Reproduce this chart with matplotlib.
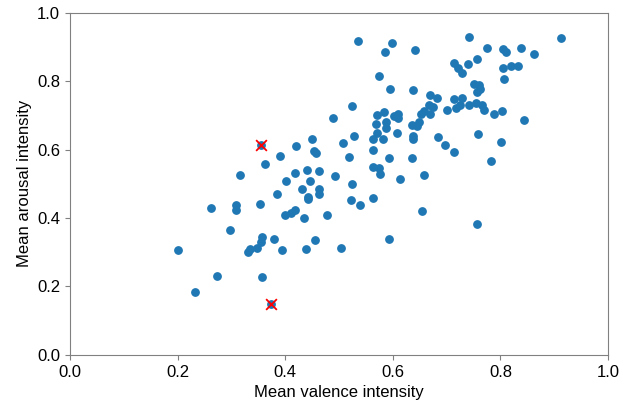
import matplotlib
matplotlib.use("Agg")
import matplotlib.pyplot as plt

plt.rcParams['font.family'] = ['Liberation Sans', 'DejaVu Sans']

# mean valence / arousal per item
valence = [0.201, 0.232, 0.262, 0.274, 0.297, 0.308, 0.308, 0.316, 0.330, 0.334,
           0.348, 0.354, 0.356, 0.355, 0.356, 0.362, 0.355, 0.374, 0.380, 0.384,
           0.390, 0.395, 0.400, 0.402, 0.410, 0.419, 0.421, 0.419, 0.431, 0.435,
           0.439, 0.440, 0.442, 0.442, 0.446, 0.449, 0.454, 0.458, 0.456, 0.463,
           0.462, 0.463, 0.478, 0.489, 0.493, 0.504, 0.508, 0.519, 0.523, 0.525,
           0.525, 0.528, 0.535, 0.539, 0.564, 0.564, 0.564, 0.564, 0.569, 0.570,
           0.570, 0.574, 0.574, 0.577, 0.581, 0.584, 0.585, 0.588, 0.588, 0.593,
           0.593, 0.595, 0.599, 0.603, 0.608, 0.609, 0.609, 0.614, 0.635, 0.636,
           0.637, 0.637, 0.638, 0.641, 0.645, 0.648, 0.652, 0.655, 0.658, 0.658,
           0.667, 0.669, 0.670, 0.675, 0.682, 0.684, 0.697, 0.700, 0.714, 0.714,
           0.714, 0.717, 0.721, 0.724, 0.729, 0.729, 0.739, 0.741, 0.741, 0.750,
           0.754, 0.756, 0.756, 0.757, 0.759, 0.760, 0.763, 0.766, 0.769, 0.776,
           0.782, 0.788, 0.802, 0.803, 0.804, 0.805, 0.806, 0.810, 0.820, 0.832,
           0.838, 0.844, 0.862, 0.913]
arousal = [0.308, 0.185, 0.428, 0.231, 0.364, 0.437, 0.425, 0.525, 0.301, 0.311,
           0.312, 0.442, 0.346, 0.331, 0.228, 0.559, 0.613, 0.148, 0.338, 0.471,
           0.581, 0.306, 0.408, 0.509, 0.416, 0.423, 0.612, 0.531, 0.486, 0.399,
           0.310, 0.541, 0.462, 0.455, 0.507, 0.631, 0.595, 0.591, 0.335, 0.486,
           0.471, 0.538, 0.408, 0.693, 0.524, 0.312, 0.618, 0.579, 0.452, 0.500,
           0.727, 0.640, 0.918, 0.438, 0.632, 0.598, 0.550, 0.460, 0.675, 0.700,
           0.648, 0.815, 0.547, 0.528, 0.630, 0.709, 0.886, 0.680, 0.664, 0.338,
           0.576, 0.776, 0.911, 0.699, 0.649, 0.705, 0.692, 0.513, 0.672, 0.577,
           0.632, 0.639, 0.775, 0.891, 0.669, 0.680, 0.704, 0.420, 0.525, 0.714,
           0.732, 0.705, 0.759, 0.725, 0.751, 0.636, 0.614, 0.716, 0.592, 0.747,
           0.852, 0.723, 0.838, 0.732, 0.751, 0.823, 0.851, 0.731, 0.929, 0.791,
           0.737, 0.866, 0.382, 0.769, 0.645, 0.789, 0.777, 0.732, 0.717, 0.897,
           0.566, 0.703, 0.623, 0.714, 0.894, 0.840, 0.807, 0.886, 0.846, 0.846,
           0.896, 0.688, 0.880, 0.925]

# flagged outliers
flag_valence = [0.355, 0.374]
flag_arousal = [0.613, 0.148]

fig = plt.figure(figsize=(6.36, 4.01), dpi=100)
ax = fig.add_axes([0.110, 0.115, 0.846, 0.853])

ax.scatter(valence, arousal, color='#1f77b4', s=28)
ax.scatter(flag_valence, flag_arousal, color='red', marker='x', s=60, linewidths=1.3)

ax.set_xlim(0, 1)
ax.set_ylim(0, 1)
ax.set_xlabel('Mean valence intensity', fontsize=12)
ax.set_ylabel('Mean arousal intensity', fontsize=12)
ax.tick_params(labelsize=12, color='#808080')
for sp in ax.spines.values():
    sp.set_color('#808080')

fig.savefig('out.png', dpi=100)
